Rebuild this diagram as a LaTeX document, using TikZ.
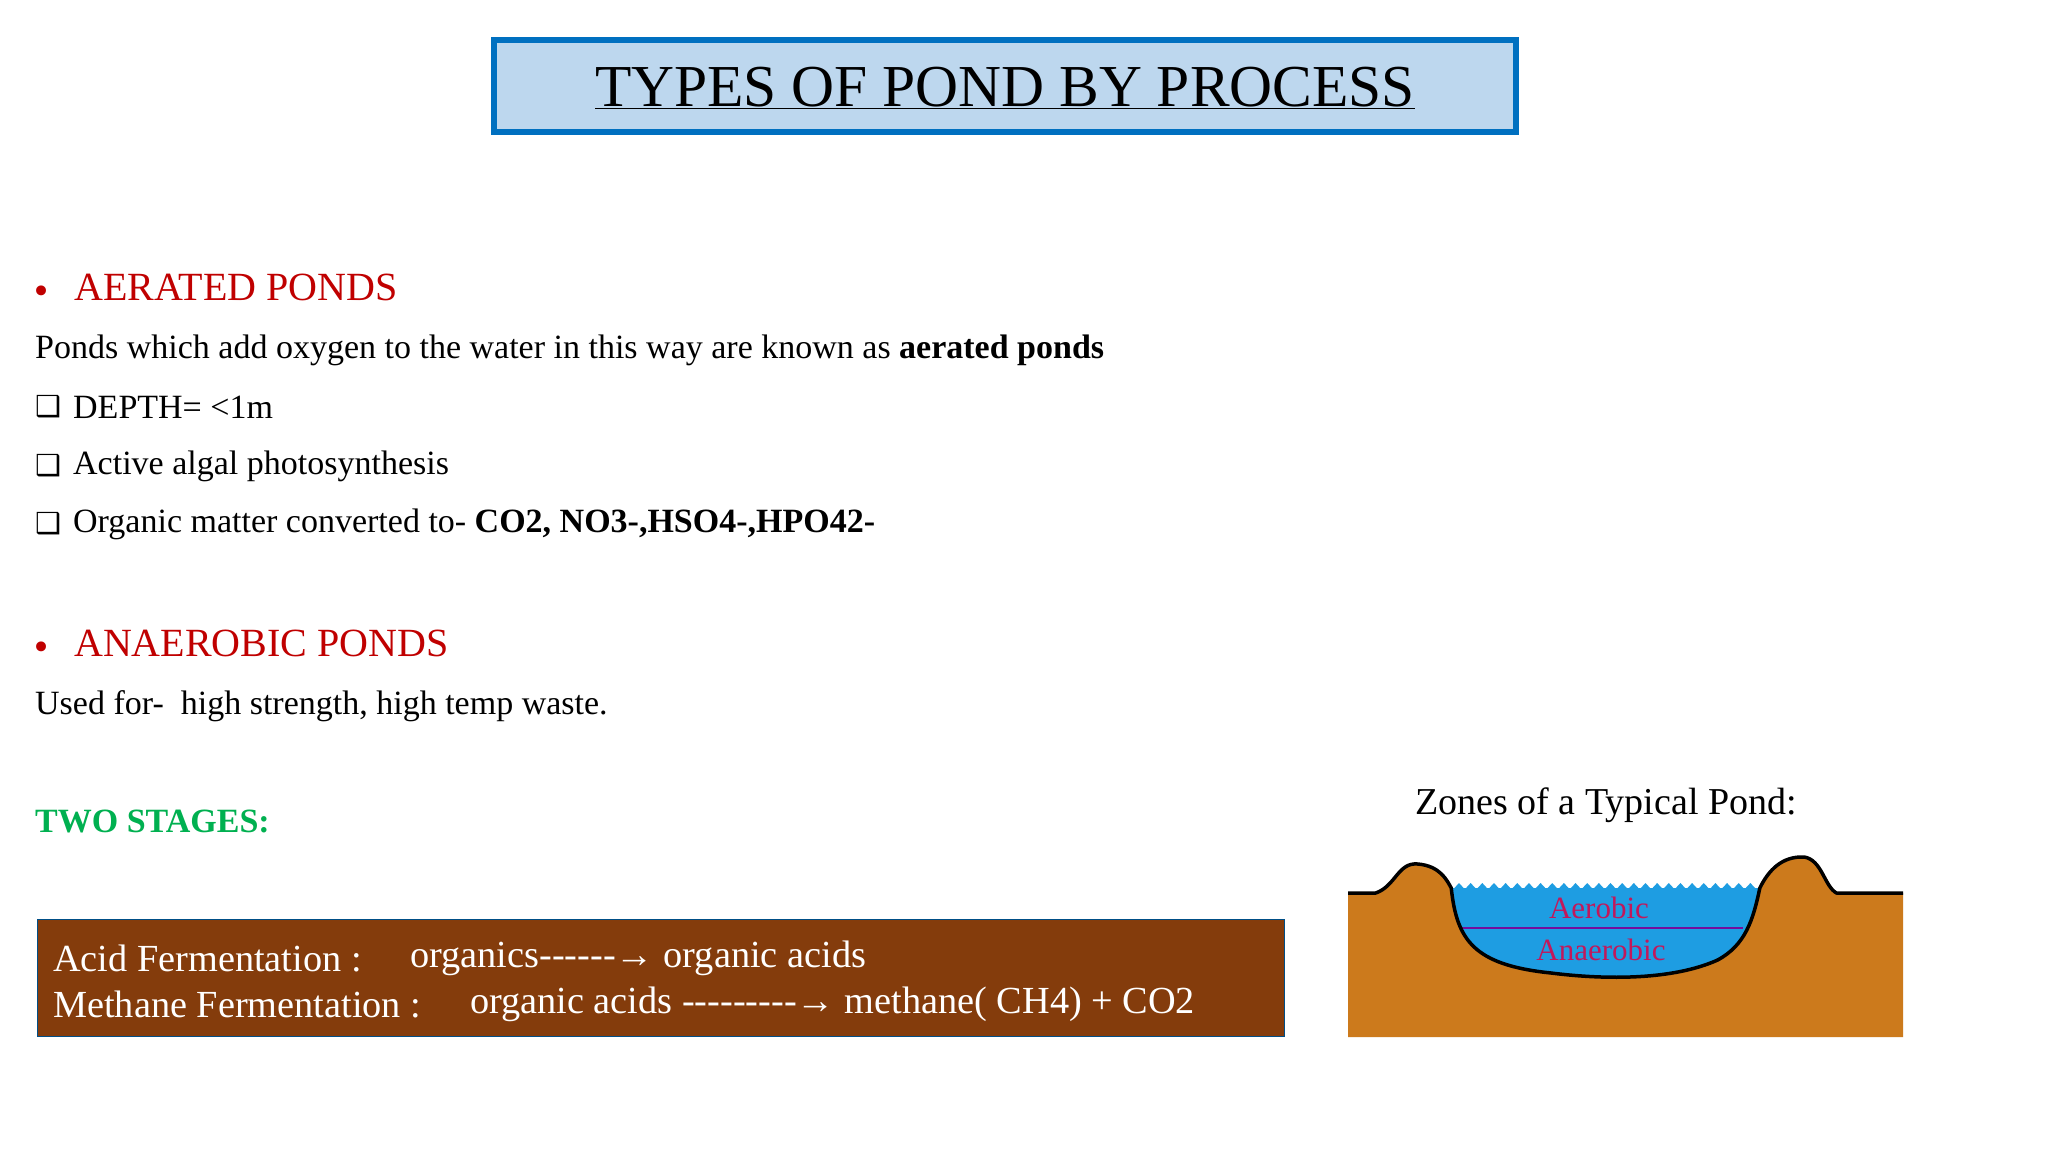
\documentclass[tikz,border=0pt]{standalone}
\usepackage{fontspec}
\setmainfont{Liberation Serif}
\newfontfamily\plain{Liberation Serif}
\newfontfamily\dejavu{DejaVu Sans}
\definecolor{tbfill}{HTML}{BDD7EE}
\definecolor{tbline}{HTML}{0070C0}
\definecolor{hred}{HTML}{C00000}
\definecolor{hgreen}{HTML}{00B050}
\definecolor{brownbox}{HTML}{843C0C}
\definecolor{soil}{HTML}{CC7A1C}
\definecolor{water}{HTML}{1E9DE2}
\definecolor{zonetxt}{HTML}{C2185B}
\begin{document}
\begin{tikzpicture}[x=1pt,y=-1pt,
  body/.style={anchor=west,inner sep=0pt,font=\fontsize{34}{38}\selectfont},
  head/.style={anchor=west,inner sep=0pt,text=hred,font=\fontsize{40}{44}\selectfont},
  bul/.style={anchor=center,inner sep=0pt,text=hred,font=\dejavu\fontsize{34}{38}\selectfont},
  chk/.style={anchor=west,inner sep=0pt,font=\dejavu\bfseries\fontsize{29}{32}\selectfont},
  ferm/.style={anchor=west,inner sep=0pt,text=white,font=\plain\fontsize{38.3}{42}\selectfont}]
\useasboundingbox (0,0) rectangle (2048,1152);
\fill[white] (0,0) rectangle (2048,1152);
% title
\node[draw=tbline,line width=6pt,fill=tbfill,minimum width=1022pt,minimum height=92pt,anchor=north west,inner sep=0pt] (title) at (491,37) {};
\node[inner sep=0pt,font=\fontsize{59.5}{64}\selectfont] (titletxt) at ([yshift=-2pt]title.center) {\underline{TYPES OF POND BY PROCESS}};
% aerated
\node[bul] (b1) at (42,295) {•};
\node[head] (h1) at (74,287) {AERATED PONDS};
\node[body] (l1) at (35,350) {Ponds which add oxygen to the water in this way are known as \textbf{aerated ponds}};
\node[chk] (c1) at (35,407) {❑};
\node[body] (l2) at (73,407) {DEPTH= <1m};
\node[chk] (c2) at (35,466) {❑};
\node[body] (l3) at (73,466) {Active algal photosynthesis};
\node[chk] (c3) at (35,524) {❑};
\node[body] (l4) at (73,524) {Organic matter converted to- \textbf{CO2, NO3-,HSO4-,HPO42-}};
% anaerobic
\node[bul] (b2) at (42,651) {•};
\node[head] (h2) at (74,643) {ANAEROBIC PONDS};
\node[body] (l5) at (35,706) {Used for-\ \ high strength, high temp waste.};
\node[body,text=hgreen,font=\bfseries\fontsize{34}{38}\selectfont] (ts) at (35,821) {TWO STAGES:};
% brown box
\node[draw=tbline!70!black,line width=1.2pt,fill=brownbox,minimum width=1247pt,minimum height=117pt,anchor=north west,inner sep=0pt] (bb) at (37,919) {};
\node[ferm] (f1) at (53,958) {Acid Fermentation :};
\node[ferm] (f1b) at (410,958) {organics------→ organic acids};
\node[ferm] (f2) at (53,1004) {Methane Fermentation :};
\node[ferm] (f2b) at (470,1004) {organic acids ---------→ methane( CH4) + CO2};
% pond figure
\node[inner sep=0pt,font=\fontsize{38}{42}\selectfont] (ptitle) at (1606,805) {Zones of a Typical Pond:};
\begin{scope}[xshift=1348pt,xscale=1.11,xshift=-1347pt]
\fill[soil] (1347,893) -- (1372,893) .. controls (1390,886) and (1392,862) .. (1410,864)
  .. controls (1430,866) and (1436,880) .. (1440,888) -- (1718,888)
  .. controls (1726,870) and (1738,856) .. (1758,857) .. controls (1774,860) and (1776,886) .. (1787,893)
  -- (1847,893) -- (1847,1037) -- (1347,1037) -- cycle;
\fill[water] (1440,888) .. controls (1445,940) and (1460,965) .. (1530,973)
  .. controls (1580,980) and (1640,980) .. (1680,960) .. controls (1705,945) and (1712,920) .. (1718,888) -- cycle;
\foreach \i in {0,...,25} {\fill[water] ({1442+\i*10.5},889) -- ({1447+\i*10.5},883) -- ({1452+\i*10.5},889) -- cycle;}
\draw[zonetxt!60!blue,line width=1.2pt] (1447,928) -- (1703,928);
\draw[black,line width=3.5pt,line join=round] (1347,893) -- (1372,893) .. controls (1390,886) and (1392,862) .. (1410,864)
  .. controls (1430,866) and (1436,880) .. (1440,888)
  .. controls (1445,940) and (1460,965) .. (1530,973)
  .. controls (1580,980) and (1640,980) .. (1680,960) .. controls (1705,945) and (1712,920) .. (1718,888)
  .. controls (1726,870) and (1738,856) .. (1758,857) .. controls (1774,860) and (1776,886) .. (1787,893)
  -- (1847,893);
\end{scope}
\node[inner sep=0pt,text=zonetxt,font=\fontsize{31}{34}\selectfont] (aer) at (1599,908) {Aerobic};
\node[inner sep=0pt,text=zonetxt,font=\fontsize{31}{34}\selectfont] (ana) at (1601,950) {Anaerobic};
\end{tikzpicture}
\end{document}
